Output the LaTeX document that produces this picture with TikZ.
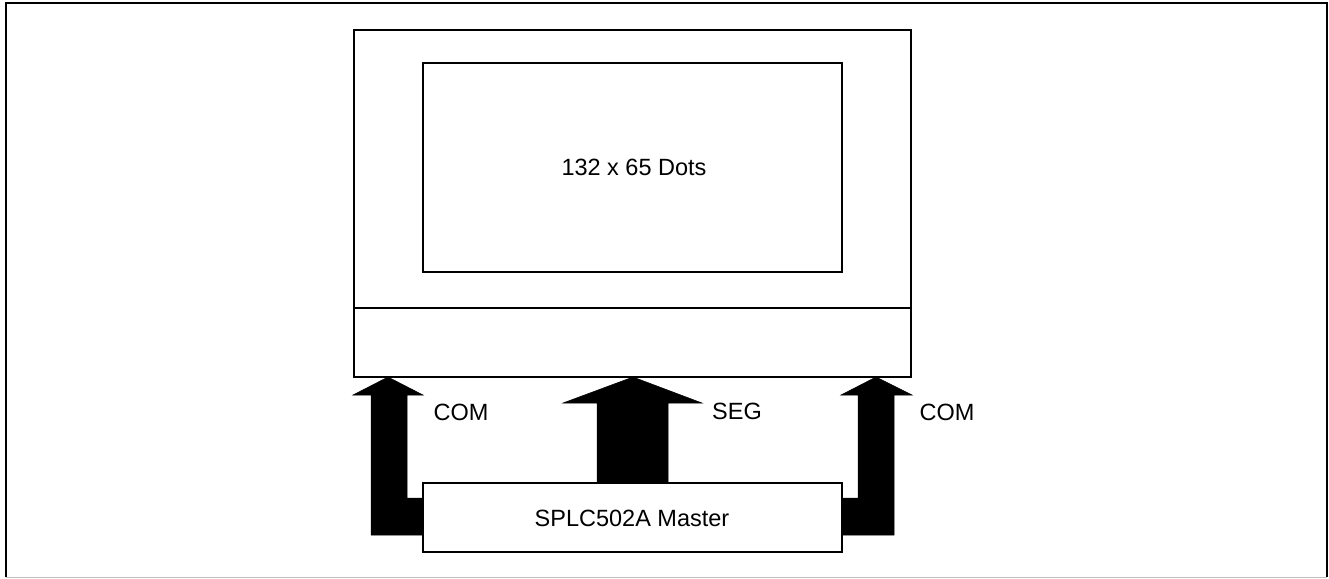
\documentclass[tikz,border=0pt]{standalone}
\usepackage{fontspec}
\setmainfont{Liberation Sans}
\begin{document}
\begin{tikzpicture}[x=1pt,y=-1pt,
  box/.style={draw=black,line width=2pt,fill=white},
  thinbox/.style={draw=black,line width=1.3pt,fill=white},
  bus/.style={fill=black,draw=black,line width=0.5pt},
  lbl/.style={inner sep=0pt,font=\fontsize{23.5}{28}\selectfont}]
\useasboundingbox (0,0) rectangle (1329,578);
% outer frame
\draw[black,line width=2pt] (6,577) -- (6,3) -- (1327,3) -- (1327,577);
\draw[black!25,line width=1pt] (6,577) -- (1327,577);
% LCD panel
\coordinate (lcdNW) at (354,30);
\coordinate (lcdSE) at (911,377);
\draw[box] (lcdNW) rectangle (lcdSE);
\draw[black,line width=2pt] (354,308) coordinate (divL) -- (911,308) coordinate (divR);
\draw[box] (423,63) coordinate (dotsNW) rectangle (842,272) coordinate (dotsSE);
\node[lbl] (dots) at (634,167.5) {132 x 65 Dots};
% bus arrows
\fill[bus] (388,377) -- (423,395) -- (407,395) -- (407,498) -- (423,498) -- (423,535) -- (371,535) -- (371,395) -- (353,395) -- cycle;
\fill[bus] (633,377) -- (702,403) -- (668,403) -- (668,483) -- (597,483) -- (597,403) -- (563,403) -- cycle;
\fill[bus] (876,377) -- (912,395) -- (894,395) -- (894,535) -- (842,535) -- (842,498) -- (858,498) -- (858,395) -- (841,395) -- cycle;
% master
\draw[thinbox] (423,483) coordinate (mNW) rectangle (842,552) coordinate (mSE);
\node[lbl] (master) at (632,518) {SPLC502A Master};
% labels
\node[lbl] (com1) at (461,412) {COM};
\node[lbl] (seg) at (737,411) {SEG};
\node[lbl] (com2) at (947,412) {COM};
\end{tikzpicture}
\end{document}
